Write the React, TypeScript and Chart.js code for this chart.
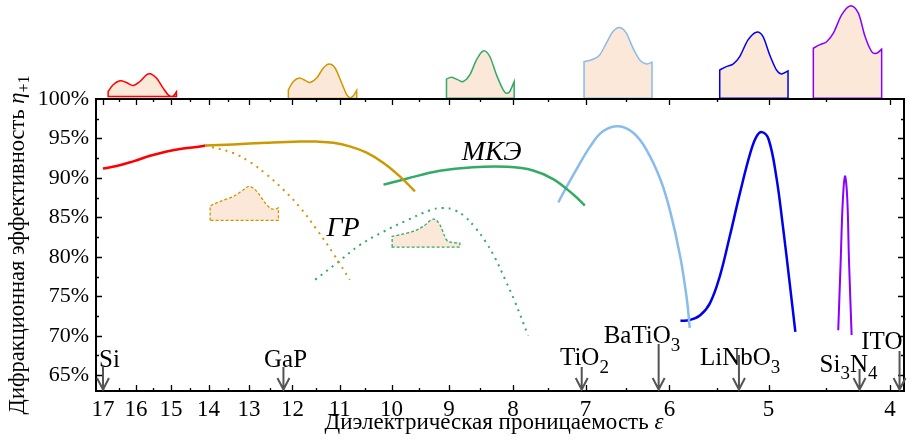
import React, { useEffect, useRef } from 'react';
import { Chart, registerables } from 'chart.js';

Chart.register(...registerables);

const FONT = '"Liberation Serif", "Times New Roman", Times, serif';

// ---- axis ticks ----
const epsMajorTicks = [17, 16, 15, 14, 13, 12, 11, 10, 9, 8, 7, 6, 5, 4];
const epsMinorTicks = [16.5, 15.5, 14.5, 13.5, 12.5, 11.5, 10.5, 9.5, 8.5, 7.5, 6.5, 5.5, 4.5];
const etaMajorTicks = [65, 70, 75, 80, 85, 90, 95, 100];
const etaMinorTicks = [67.5, 72.5, 77.5, 82.5, 87.5, 92.5, 97.5];

// ---- series (ε, η+1 %) ----
const redEps = [17.0, 16.58, 16.08, 15.59, 15.12, 14.67, 14.22, 14.09];
const redEta = [91.2, 91.5, 92.1, 92.8, 93.35, 93.72, 93.98, 94.1];

const goldEps = [14.09, 13.38, 12.58, 11.84, 11.48, 11.13, 10.8, 10.47, 10.15, 9.85, 9.58];
const goldEta = [94.1, 94.25, 94.45, 94.6, 94.6, 94.45, 94.0, 93.2, 91.9, 90.2, 88.3];

const goldGrEps = [14.09, 13.38, 12.97, 12.58, 12.2, 11.84, 11.48, 11.13, 10.8];
const goldGrEta = [94.1, 93.15, 92.0, 90.42, 88.5, 86.3, 83.5, 80.4, 77.1];

const greenEps = [10.15, 9.73, 9.15, 8.61, 8.09, 7.71, 7.43, 7.16, 7.01];
const greenEta = [89.15, 89.9, 90.9, 91.35, 91.4, 90.95, 89.85, 87.9, 86.5];

const greenGrEps = [11.51, 11.06, 10.6, 10.15, 9.73, 9.32, 9.1, 8.9, 8.74, 8.58, 8.42, 8.27, 8.12, 7.97, 7.78];
const greenGrEta = [77.1, 79.2, 81.5, 83.2, 84.6, 85.9, 86.2, 85.9, 85.1, 83.75, 82.0, 79.9, 77.2, 74.3, 70.0];

const lightBlueEps = [7.36, 7.27, 7.12, 6.94, 6.78, 6.59, 6.41, 6.26, 6.1, 5.99, 5.88, 5.81, 5.78];
const lightBlueEta = [86.9, 88.5, 91.05, 94.0, 95.9, 96.55, 95.7, 93.6, 89.8, 85.7, 79.9, 74.55, 71.0];

const blueEps = [5.88, 5.78, 5.67, 5.57, 5.47, 5.37, 5.27, 5.17, 5.11, 5.06, 5.0, 4.93, 4.87, 4.81, 4.76];
const blueEta = [71.9, 72.0, 72.6, 74.1, 77.5, 82.6, 88.1, 93.2, 95.3, 95.8, 94.9, 90.2, 83.85, 76.7, 70.5];

const purpleEps = [4.399, 4.379, 4.363, 4.345, 4.327, 4.313, 4.292];
const purpleEta = [70.7, 79.6, 86.8, 90.2, 87.5, 79.6, 70.1];

// ---- materials ----
const materialNames = ['Si', 'GaP', 'TiO2', 'BaTiO3', 'LiNbO3', 'Si3N4', 'ITO'];
const materialEps = [17.0, 12.2, 7.05, 6.12, 5.28, 4.23, 3.93];

// ---- grating profiles (relative x in px from left edge, height in px) ----
const profileRed = [[0, 5], [5, 11.7], [11.7, 15.7], [18.3, 14], [25, 11], [31.7, 15], [38.3, 21.7], [42.3, 22.7], [48.3, 18.4], [55, 8.4], [60, 1.7], [63.3, 0], [65.7, 1], [68.3, 4.7]];
const profileGold = [[0, 8.7], [5, 17], [11, 20.4], [16.7, 18], [21.7, 16], [28.3, 20.4], [35, 30.4], [40.7, 34.4], [46.7, 30.4], [53.3, 15.4], [58.3, 3.7], [61.7, 0.7], [65, 2.7], [68.3, 8]];
const profileGreen = [[0, 19], [5, 21], [11.7, 18.3], [16.7, 16.7], [23.3, 23.3], [30, 38.3], [36.7, 47.3], [43.3, 41.7], [50, 23.3], [56.7, 8.3], [60, 5], [63.3, 6.7], [67.7, 16.7]];
const profileLightBlue = [[0, 36.6], [9, 39], [15.7, 43.3], [22.3, 55], [29, 66.6], [35.7, 70.6], [42.3, 65], [49, 50], [55.7, 38.3], [62.3, 34.3], [68, 36]];
const profileBlue = [[0, 28.3], [6.7, 31.6], [13.3, 34], [20, 41.6], [28.3, 58.3], [36.7, 66], [43.3, 61.6], [50, 43.3], [56.7, 28.3], [61.7, 24.3], [68.3, 27.3]];
const profilePurple = [[0, 50], [6.7, 53.5], [13.3, 56.5], [20, 65], [28.3, 83.3], [36.7, 92.3], [45, 85], [51.7, 61.6], [58.3, 46.6], [63.3, 45], [68.3, 49]];
const profileGoldGr = [[0, 14.5], [10, 19], [23.3, 24], [33.3, 30.7], [39.3, 34], [46.7, 29], [55, 17.4], [61.7, 11.4], [68.3, 12.4]];
const profileGreenGr = [[0, 10.6], [7.7, 12.3], [21, 15.6], [31, 20.6], [41, 28], [47.7, 22.3], [54.3, 7.3], [61, 4.6], [67.7, 4]];

const RED = '#ff0000';
const GOLD = '#cc9900';
const GREEN = '#33aa66';
const LIGHTBLUE = '#88bbee';
const BLUE = '#0000ee';
const PURPLE = '#8800ff';
const PEACH = '#fce8d9';

type Seg = { t: string; sub?: boolean; italic?: boolean };

function chemSegs(name: string): Seg[] {
  return name.split(/(\d+)/).filter((s) => s.length).map((s) => (/^\d+$/.test(s) ? { t: s, sub: true } : { t: s }));
}

function drawSegs(ctx: CanvasRenderingContext2D, segs: Seg[], x: number, y: number, size: number, align: 'left' | 'center', subScale = 0.75, subShift = 0.3) {
  const fontOf = (s: Seg) => `${s.italic ? 'italic ' : ''}${s.sub ? Math.round(size * subScale) : size}px ${FONT}`;
  let total = 0;
  for (const s of segs) {
    ctx.font = fontOf(s);
    total += ctx.measureText(s.t).width;
  }
  let cx = align === 'center' ? x - total / 2 : x;
  ctx.textAlign = 'left';
  ctx.textBaseline = 'alphabetic';
  for (const s of segs) {
    ctx.font = fontOf(s);
    ctx.fillText(s.t, cx, y + (s.sub ? size * subShift : 0));
    cx += ctx.measureText(s.t).width;
  }
}

function profilePath(ctx: CanvasRenderingContext2D, prof: number[][], left: number, base: number) {
  const pts = prof.map(([u, h]) => ({ x: left + u, y: base - h }));
  ctx.beginPath();
  ctx.moveTo(left, base);
  ctx.lineTo(pts[0].x, pts[0].y);
  for (let i = 0; i < pts.length - 1; i++) {
    const p0 = pts[i - 1] || pts[i];
    const p1 = pts[i];
    const p2 = pts[i + 1];
    const p3 = pts[i + 2] || p2;
    ctx.bezierCurveTo(
      p1.x + (p2.x - p0.x) / 6, p1.y + (p2.y - p0.y) / 6,
      p2.x - (p3.x - p1.x) / 6, p2.y - (p3.y - p1.y) / 6,
      p2.x, p2.y
    );
  }
  ctx.lineTo(pts[pts.length - 1].x, base);
  ctx.closePath();
}

function series(eps: number[], eta: number[]) {
  return eps.map((x, i) => ({ x, y: eta[i] }));
}

const decorPlugin = {
  id: 'decor',
  beforeDatasetsDraw(chart: any) {
    const { ctx, scales } = chart;
    const xs = scales.x;
    const ys = scales.y;
    const insets = [
      { prof: profileGoldGr, color: GOLD, leftEps: 13.96, baseEta: 84.62 },
      { prof: profileGreenGr, color: GREEN, leftEps: 9.99, baseEta: 81.24 },
    ];
    ctx.save();
    for (const ins of insets) {
      profilePath(ctx, ins.prof, xs.getPixelForValue(ins.leftEps), ys.getPixelForValue(ins.baseEta));
      ctx.fillStyle = PEACH;
      ctx.fill();
      ctx.setLineDash([3, 2]);
      ctx.lineWidth = 1.3;
      ctx.strokeStyle = ins.color;
      ctx.stroke();
    }
    ctx.restore();
  },
  afterDraw(chart: any) {
    const { ctx, chartArea, scales } = chart;
    const xs = scales.x;
    const ys = scales.y;
    const { left, right, top, bottom } = chartArea;
    ctx.save();

    // top grating profiles
    const tops = [
      { prof: profileRed, color: RED, leftEps: 16.84, off: 2.5 },
      { prof: profileGold, color: GOLD, leftEps: 12.09, off: 0.6 },
      { prof: profileGreen, color: GREEN, leftEps: 9.04, off: 0.8 },
      { prof: profileLightBlue, color: LIGHTBLUE, leftEps: 7.02, off: 0.8 },
      { prof: profileBlue, color: BLUE, leftEps: 5.47, off: 0.8 },
      { prof: profilePurple, color: PURPLE, leftEps: 4.605, off: 0.8 },
    ];
    for (const t of tops) {
      profilePath(ctx, t.prof, xs.getPixelForValue(t.leftEps), top - t.off);
      ctx.fillStyle = PEACH;
      ctx.fill();
      ctx.setLineDash([]);
      ctx.lineWidth = 1.5;
      ctx.strokeStyle = t.color;
      ctx.stroke();
    }

    // frame
    ctx.setLineDash([]);
    ctx.strokeStyle = '#000';
    ctx.lineWidth = 2;
    ctx.strokeRect(left, top, right - left, bottom - top);

    // inward ticks
    ctx.lineWidth = 1.3;
    ctx.beginPath();
    const xt = (vals: number[], len: number) => {
      for (const v of vals) {
        const px = Math.round(xs.getPixelForValue(v)) + 0.5;
        ctx.moveTo(px, bottom);
        ctx.lineTo(px, bottom - len);
        ctx.moveTo(px, top);
        ctx.lineTo(px, top + len);
      }
    };
    const yt = (vals: number[], len: number) => {
      for (const v of vals) {
        const py = Math.round(ys.getPixelForValue(v)) + 0.5;
        ctx.moveTo(left, py);
        ctx.lineTo(left + len, py);
        ctx.moveTo(right, py);
        ctx.lineTo(right - len, py);
      }
    };
    xt(epsMajorTicks, 6);
    xt(epsMinorTicks, 3);
    yt(etaMajorTicks.filter((v) => v < 100), 6);
    yt(etaMinorTicks, 3);
    ctx.stroke();

    // material arrows + labels
    const lay = [
      { dx: -4, base: 366.7, atop: 367 },
      { dx: -19.4, base: 366.7, atop: 367 },
      { dx: -21.7, base: 365, atop: 367 },
      { dx: -55, base: 343.3, atop: 344 },
      { dx: -39, base: 365, atop: 355 },
      { dx: -40, base: 371.7, atop: 369 },
      { dx: -38.3, base: 349.3, atop: 351 },
    ];
    materialNames.forEach((name, i) => {
      const ax = xs.getPixelForValue(materialEps[i]);
      const L = lay[i];
      ctx.fillStyle = '#000';
      drawSegs(ctx, chemSegs(name), ax + L.dx, L.base, 25, 'left', 0.75, 0.3);
      ctx.strokeStyle = '#555';
      ctx.lineWidth = 2;
      ctx.beginPath();
      ctx.moveTo(ax, L.atop);
      ctx.lineTo(ax, bottom - 1.5);
      ctx.moveTo(ax - 6, bottom - 13);
      ctx.lineTo(ax, bottom - 1.5);
      ctx.lineTo(ax + 6, bottom - 13);
      ctx.stroke();
    });

    // method labels
    ctx.fillStyle = '#000';
    drawSegs(ctx, [{ t: 'МКЭ', italic: true }], xs.getPixelForValue(8.79), ys.getPixelForValue(92.32), 28, 'left');
    drawSegs(ctx, [{ t: 'ГР', italic: true }], xs.getPixelForValue(11.27), ys.getPixelForValue(82.58), 28, 'left');

    // axis titles
    drawSegs(ctx, [{ t: 'Диэлектрическая проницаемость ' }, { t: 'ε', italic: true }], 494, 428.5, 23, 'center');
    ctx.save();
    ctx.translate(23.5, (top + bottom) / 2);
    ctx.rotate(-Math.PI / 2);
    drawSegs(ctx, [{ t: 'Дифракционная эффективность ' }, { t: 'η', italic: true }, { t: '+1', sub: true }], 0, 0, 22.5, 'center', 0.7, 0.25);
    ctx.restore();

    ctx.restore();
  },
};

export default function App() {
  const ref = useRef<HTMLCanvasElement | null>(null);
  useEffect(() => {
    if (!ref.current) return;
    const solid = (data: any, color: string) => ({
      data,
      borderColor: color,
      borderWidth: 2.5,
      pointRadius: 0,
      fill: false,
      tension: 0.4,
    });
    const dotted = (data: any, color: string) => ({
      data,
      borderColor: color,
      borderWidth: 2,
      borderDash: [2, 5],
      pointRadius: 0,
      fill: false,
      tension: 0.4,
    });
    const chart = new Chart(ref.current, {
      type: 'line',
      data: {
        datasets: [
          dotted(series(goldGrEps, goldGrEta), GOLD),
          dotted(series(greenGrEps, greenGrEta), GREEN),
          solid(series(goldEps, goldEta), GOLD),
          solid(series(redEps, redEta), RED),
          solid(series(greenEps, greenEta), GREEN),
          solid(series(lightBlueEps, lightBlueEta), LIGHTBLUE),
          solid(series(blueEps, blueEta), BLUE),
          { ...solid(series(purpleEps, purpleEta), PURPLE), borderWidth: 2 },
        ] as any,
      },
      options: {
        responsive: false,
        animation: false,
        devicePixelRatio: 1,
        layout: { padding: { top: 99, right: 8, left: 0, bottom: 0 } },
        plugins: {
          legend: { display: false },
          tooltip: { enabled: false },
          title: { display: false },
        },
        scales: {
          x: {
            type: 'logarithmic',
            reverse: true,
            min: 3.898,
            max: 17.22,
            position: 'bottom',
            afterBuildTicks: (s: any) => {
              s.ticks = epsMajorTicks.map((v) => ({ value: v }));
            },
            afterFit: (s: any) => {
              s.height = 54;
            },
            grid: { display: false, drawTicks: false },
            border: { display: false },
            ticks: {
              autoSkip: false,
              maxRotation: 0,
              padding: 5,
              color: '#000',
              font: { family: FONT, size: 23 },
              callback: (v: any) => String(v),
            },
          },
          y: {
            type: 'linear',
            min: 63,
            max: 100,
            afterBuildTicks: (s: any) => {
              s.ticks = etaMajorTicks.map((v) => ({ value: v }));
            },
            afterFit: (s: any) => {
              s.width = 96;
            },
            grid: { display: false, drawTicks: false },
            border: { display: false },
            ticks: {
              padding: 7,
              color: '#000',
              font: { family: FONT, size: 22 },
              callback: (v: any) => v + '%',
            },
          },
        },
      } as any,
      plugins: [decorPlugin],
    });
    return () => chart.destroy();
  }, []);
  return (
    <div style={{ position: 'absolute', left: 0, top: 0, width: 912, height: 445, background: '#fff' }}>
      <canvas ref={ref} width={912} height={445} style={{ display: 'block' }} />
    </div>
  );
}
